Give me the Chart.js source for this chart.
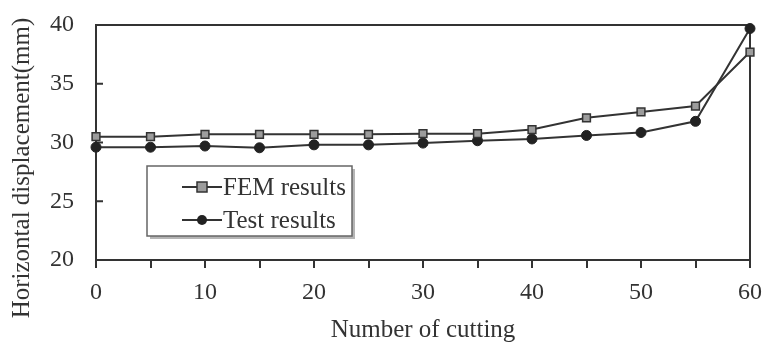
<!DOCTYPE html>
<html>
<head>
<meta charset="utf-8">
<script src="https://cdn.jsdelivr.net/npm/chart.js@4"></script>
<style>
  html, body { margin: 0; padding: 0; background: #fff; }
  #wrap { width: 766px; height: 345px; }
</style>
</head>
<body>
<div id="wrap"><canvas id="chart" width="766" height="345"></canvas></div>
<script>
// data
const cuts = [0, 5, 10, 15, 20, 25, 30, 35, 40, 45, 50, 55, 60];
const femResults = [30.5, 30.5, 30.7, 30.7, 30.7, 30.7, 30.75, 30.75, 31.1, 32.1, 32.6, 33.1, 37.7];
const testResults = [29.6, 29.6, 29.7, 29.55, 29.8, 29.8, 29.95, 30.15, 30.3, 30.6, 30.85, 31.8, 39.7];
const yTicks = [20, 25, 30, 35, 40];

const ink = '#333';
const family = '"Liberation Serif", "Times New Roman", serif';
const tickFont = { family: family, size: 24 };
const titleFont = { family: family, size: 25 };

// frame + inward y ticks + y title + legend box
const framePlugin = {
  id: 'frame',
  beforeDatasetsDraw(chart) {
    const { ctx, chartArea: a, scales } = chart;
    ctx.save();
    ctx.strokeStyle = ink;
    ctx.lineWidth = 2;
    ctx.strokeRect(a.left, a.top, a.right - a.left, a.bottom - a.top);
    ctx.beginPath();
    yTicks.forEach(v => {
      const y = scales.y.getPixelForValue(v);
      ctx.moveTo(a.left, y);
      ctx.lineTo(a.left + 7, y);
    });
    ctx.stroke();
    // y title
    ctx.fillStyle = ink;
    ctx.font = `${titleFont.size}px ${family}`;
    ctx.textAlign = 'center';
    ctx.textBaseline = 'middle';
    ctx.translate(22, 168);
    ctx.rotate(-Math.PI / 2);
    ctx.fillText('Horizontal displacement(mm)', 0, 0);
    ctx.restore();
  },
  afterDatasetsDraw(chart) {
    const { ctx } = chart;
    const bx = 147, by = 166, bw = 205, bh = 70;
    ctx.save();
    ctx.fillStyle = '#b5b5b5';
    ctx.fillRect(bx + 3, by + 3, bw, bh);
    ctx.fillStyle = '#fff';
    ctx.fillRect(bx, by, bw, bh);
    ctx.strokeStyle = '#666';
    ctx.lineWidth = 1.5;
    ctx.strokeRect(bx, by, bw, bh);
    const rows = [
      { ds: chart.data.datasets[0], y: by + 21 },
      { ds: chart.data.datasets[1], y: by + 54 }
    ];
    rows.forEach(r => {
      ctx.strokeStyle = ink;
      ctx.lineWidth = 2;
      ctx.beginPath();
      ctx.moveTo(182, r.y);
      ctx.lineTo(222, r.y);
      ctx.stroke();
      ctx.fillStyle = r.ds.pointBackgroundColor;
      ctx.strokeStyle = r.ds.pointBorderColor;
      ctx.lineWidth = 1.5;
      if (r.ds.pointStyle === 'rect') {
        ctx.fillRect(197, r.y - 5, 10, 10);
        ctx.strokeRect(197, r.y - 5, 10, 10);
      } else {
        ctx.beginPath();
        ctx.arc(202, r.y, 5, 0, Math.PI * 2);
        ctx.fill();
      }
      ctx.fillStyle = ink;
      ctx.font = `${titleFont.size}px ${family}`;
      ctx.textAlign = 'left';
      ctx.textBaseline = 'middle';
      ctx.fillText(r.ds.label, 223, r.y + 1);
    });
    ctx.restore();
  }
};

new Chart(document.getElementById('chart'), {
  type: 'line',
  data: {
    datasets: [
      {
        label: 'FEM results',
        data: cuts.map((c, i) => ({ x: c, y: femResults[i] })),
        borderColor: ink,
        borderWidth: 2,
        pointStyle: 'rect',
        pointRadius: 5.5,
        pointBackgroundColor: '#9c9c9c',
        pointBorderColor: ink,
        pointBorderWidth: 1.5,
        clip: false
      },
      {
        label: 'Test results',
        data: cuts.map((c, i) => ({ x: c, y: testResults[i] })),
        borderColor: ink,
        borderWidth: 2,
        pointStyle: 'circle',
        pointRadius: 5,
        pointBackgroundColor: '#222',
        pointBorderColor: '#222',
        pointBorderWidth: 1,
        clip: false
      }
    ]
  },
  options: {
    responsive: false,
    animation: false,
    layout: { padding: { left: 0, right: 16, top: 25, bottom: 0 } },
    plugins: { legend: { display: false }, tooltip: { enabled: false } },
    scales: {
      x: {
        type: 'linear',
        min: 0,
        max: 60,
        border: { display: false },
        grid: { drawOnChartArea: false, drawTicks: true, tickLength: 8, color: ink, lineWidth: 2 },
        ticks: {
          stepSize: 5,
          color: ink,
          font: tickFont,
          padding: 10,
          callback: v => (v % 10 === 0 ? v : '')
        },
        title: { display: true, text: 'Number of cutting', color: ink, font: titleFont, padding: { top: 4, bottom: 0 } },
        afterFit: s => {
          s.height = 85;
          s.paddingLeft = 0;
          s.paddingRight = 0;
        }
      },
      y: {
        min: 20,
        max: 40,
        border: { display: false },
        grid: { display: false },
        ticks: { stepSize: 5, color: ink, font: tickFont, padding: 14 },
        afterFit: s => {
          s.width = 96;
          s.paddingTop = 0;
          s.paddingBottom = 0;
        }
      }
    }
  },
  plugins: [framePlugin]
});
</script>
</body>
</html>
